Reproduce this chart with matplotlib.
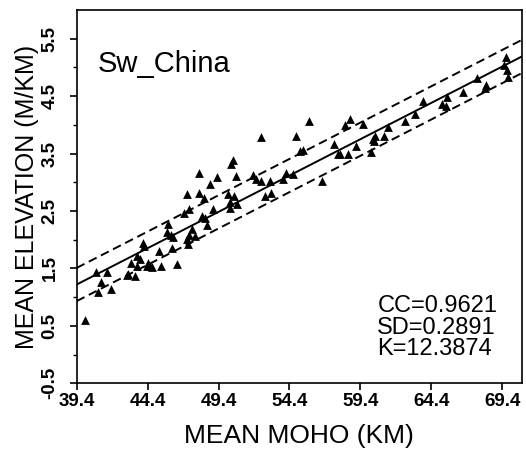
import numpy as np
import matplotlib.pyplot as plt

# profundidade média da moho (km) e elevação média
moho = [39.99, 40.74, 41.09, 40.90, 41.56, 41.79, 42.92, 43.23, 43.51, 43.63,
        43.67, 44.05, 44.17, 43.86, 44.33, 44.56, 45.34, 45.22, 45.86, 45.74,
        46.04, 46.09, 46.49, 47.15, 47.31, 46.98, 47.15, 47.31, 47.26, 47.50,
        47.73, 48.01, 48.01, 48.37, 48.20, 48.48, 48.60, 48.79, 49.02, 49.31,
        50.08, 50.20, 50.25, 50.39, 50.50, 50.60, 50.71, 50.20, 51.84, 52.03,
        52.38, 52.38, 52.71, 53.06, 53.13, 53.95, 54.19, 54.66, 54.89, 55.13,
        55.36, 55.76, 56.72, 57.55, 57.95, 58.30, 58.53, 58.70, 59.07, 59.59,
        60.17, 60.29, 60.41, 61.04, 61.35, 62.52, 63.23, 63.81, 65.18, 65.50,
        65.41, 66.63, 67.62, 68.27, 68.16, 69.68, 69.56, 69.73, 69.80, 44.45,
        44.70, 43.00, 46.20, 57.80, 60.35]
elev = [0.61, 1.43, 1.26, 1.09, 1.43, 1.15, 1.38, 1.60, 1.36, 1.54,
        1.71, 1.95, 1.89, 1.66, 1.54, 1.54, 1.54, 1.80, 2.27, 2.13,
        2.09, 1.86, 1.57, 2.80, 2.53, 2.47, 2.02, 2.09, 1.92, 2.18,
        2.06, 3.17, 2.82, 2.73, 2.42, 2.38, 2.25, 2.97, 2.54, 3.10,
        2.79, 2.65, 3.32, 3.38, 2.76, 3.11, 2.62, 2.56, 3.12, 3.05,
        3.78, 3.03, 2.76, 3.03, 2.82, 3.05, 3.17, 3.14, 3.81, 3.55,
        3.57, 4.06, 3.03, 3.67, 3.49, 3.99, 3.49, 4.10, 3.64, 4.02,
        3.52, 3.75, 3.81, 3.81, 3.96, 4.06, 4.19, 4.42, 4.37, 4.48,
        4.33, 4.57, 4.81, 4.69, 4.64, 5.18, 5.04, 4.95, 4.83, 1.60,
        1.52, 1.40, 2.05, 3.50, 3.72]

# reta ajustada e desvio padrão
intercepto = 1.22
inclinacao = 0.1265
sd = 0.2891
cc = 0.9621
k = 12.3874

xticks = [39.4, 44.4, 49.4, 54.4, 59.4, 64.4, 69.4]
yticks = [-0.5, 0.5, 1.5, 2.5, 3.5, 4.5, 5.5]

plt.rcParams['font.family'] = ['Liberation Sans', 'DejaVu Sans']

fig = plt.figure(figsize=(5.26, 4.57), dpi=100)
ax = fig.add_axes([0.1458, 0.1613, 0.8467, 0.8168])

ax.scatter(moho, elev, marker='^', s=40, color='black', linewidths=0, zorder=3)

xs = np.array([39.4, 71.0])
ys = intercepto + inclinacao * (xs - 39.4)
ax.plot(xs, ys, color='black', lw=1.4)
ax.plot(xs, ys + sd, color='black', lw=1.4, ls=(0, (4.5, 2.5)))
ax.plot(xs, ys - sd, color='black', lw=1.4, ls=(0, (4.5, 2.5)))

ax.set_xlim(39.4, 70.8)
ax.set_ylim(-0.5, 6.0)
ax.set_xticks(xticks)
ax.set_xticklabels([f'{v:.1f}' for v in xticks], fontsize=13.5, fontweight='bold')
ax.set_yticks(yticks)
ax.set_yticklabels([f'{v:.1f}' for v in yticks], fontsize=13.5, fontweight='bold',
                   rotation=90, va='center')
ax.set_yticks(np.arange(0.0, 6.0, 1.0), minor=True)
ax.tick_params(which='major', length=5, width=1.2, pad=2)
ax.tick_params(which='minor', length=3, width=1.0)
ax.tick_params(axis='y', which='major', pad=8)
for s in ax.spines.values():
    s.set_linewidth(1.2)

ax.set_xlabel('MEAN MOHO (KM)', fontsize=19, labelpad=10)
ax.set_ylabel('MEAN ELEVATION (M/KM)', fontsize=18, labelpad=2)

ax.text(40.9, 4.92, 'Sw_China', fontsize=21)
# estatísticas do ajuste
ax.text(60.6, 0.74, f'CC={cc:.4f}', fontsize=17)
ax.text(60.6, 0.36, f'SD={sd:.4f}', fontsize=17)
ax.text(60.6, -0.01, f'K={k:.4f}', fontsize=17)

plt.savefig('out.png', dpi=100)
